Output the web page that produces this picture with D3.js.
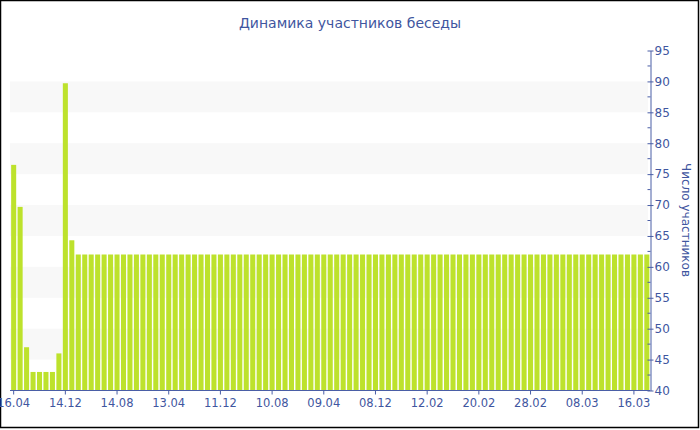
<!DOCTYPE html>
<html>
<head>
<meta charset="utf-8">
<script src="https://cdn.jsdelivr.net/npm/d3@7"></script>
<style>
  body { margin: 0; background: #fff; }
  text { font-family: "DejaVu Sans", Verdana, sans-serif; }
</style>
</head>
<body>
<svg width="700" height="430"></svg>
<script>
// first bars are read one by one, after that the count stays at 62
var headValues = [76.5, 69.7, 47, 43, 43, 43, 43, 46, 89.7, 64.3];
var tailValues = [62,62,62,62,62,62,62,62,62,62, 62,62,62,62,62,62,62,62,62,62,
	62,62,62,62,62,62,62,62,62,62, 62,62,62,62,62,62,62,62,62,62,
	62,62,62,62,62,62,62,62,62,62, 62,62,62,62,62,62,62,62,62,62,
	62,62,62,62,62,62,62,62,62,62, 62,62,62,62,62,62,62,62,62,62,
	62,62,62,62,62,62,62,62,62];
var values = headValues.concat(tailValues);
// labels shown every 8th bar
var tickLabels = ["16.04","14.12","14.08","13.04","11.12","10.08","09.04","08.12","12.02","20.02","28.02","08.03","16.03"];
var tickStep = 8;
var yTicks = [40,45,50,55,60,65,70,75,80,85,90,95];
var bands = [[45,50],[55,60],[65,70],[75,80],[85,90]];

var svg = d3.select("svg");
var ink = "#4a5ea6", textCol = "#3f56a0";

var x = d3.scaleBand()
	.domain(d3.range(values.length))
	.range([10.5, 650])
	.paddingInner(0.22)
	.paddingOuter(0.1);
var y = d3.scaleLinear().domain([40, 95]).range([390.5, 50.5]);

// outer frame
svg.append("rect").attr("x", 0.5).attr("y", 0.5).attr("width", 698).attr("height", 427)
	.attr("fill", "#fff").attr("stroke", "#000").attr("stroke-width", 1.5);

svg.append("g").selectAll("rect").data(bands).enter().append("rect")
	.attr("x", 10).attr("width", 638)
	.attr("y", function(d) { return y(d[1]); })
	.attr("height", function(d) { return y(d[0]) - y(d[1]); })
	.attr("fill", "#f8f8f8");

svg.append("g").selectAll("rect").data(values).enter().append("rect")
	.attr("x", function(d, i) { return x(i); })
	.attr("width", x.bandwidth())
	.attr("y", function(d) { return y(d); })
	.attr("height", function(d) { return y(40) - y(d); })
	.attr("fill", "#bde22c");

// x axis
var xAxis = d3.axisBottom(x)
	.tickValues(d3.range(0, values.length, tickStep))
	.tickFormat(function(d) { return tickLabels[d / tickStep]; })
	.tickSize(4).tickSizeOuter(0);
var gx = svg.append("g").attr("transform", "translate(0,390.5)").call(xAxis);
gx.select(".domain").attr("stroke", ink).attr("d", "M10,0H650");
gx.selectAll("line").attr("stroke", ink);
gx.selectAll("text").attr("fill", textCol).attr("font-size", 11.5).attr("dy", "0.85em")
	.attr("font-family", "DejaVu Sans");

// y axis on the right
var yAxis = d3.axisRight(y).tickValues(yTicks).tickSize(3).tickSizeOuter(0);
var gy = svg.append("g").attr("transform", "translate(650.5,0)").call(yAxis);
gy.select(".domain").attr("stroke", ink);
gy.selectAll(".tick line").attr("stroke", ink).attr("x1", -3);
gy.selectAll("text").attr("fill", textCol).attr("font-size", 12).attr("x", 4)
	.attr("font-family", "DejaVu Sans");
gy.selectAll(".minor").data(d3.range(42.5, 95, 5)).enter().append("line")
	.attr("class", "minor")
	.attr("x1", -3).attr("x2", 0)
	.attr("y1", function(d) { return y(d); }).attr("y2", function(d) { return y(d); })
	.attr("stroke", ink);

svg.append("text").attr("transform", "translate(682,220) rotate(90)")
	.attr("text-anchor", "middle").attr("font-size", 12).attr("fill", textCol)
	.text("Число участников");

svg.append("text").attr("x", 350).attr("y", 28)
	.attr("text-anchor", "middle").attr("font-size", 14).attr("fill", textCol)
	.text("Динамика участников беседы");
</script>
</body>
</html>
